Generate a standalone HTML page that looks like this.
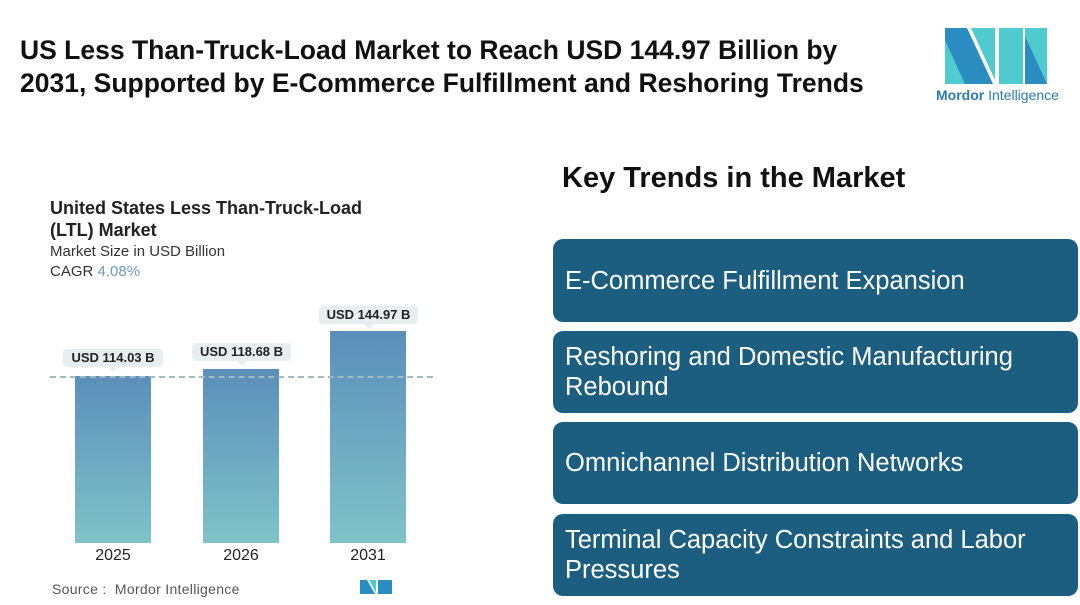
<!DOCTYPE html>
<html><head><style>
body{margin:0;width:1080px;height:605px;background:#fff;font-family:"Liberation Sans",sans-serif;position:relative;overflow:hidden}
.a{position:absolute}
.t{left:20px;top:34px;font-size:26.5px;font-weight:bold;color:#111;line-height:33px}
.box{position:absolute;left:553px;width:525px;background:#1c5e80;border-radius:10px;color:#fff;font-size:25.5px;line-height:30px;padding-left:12px;box-sizing:border-box;display:flex;align-items:center}
.bar{position:absolute;width:76px;background:linear-gradient(#5b8fba,#7fc3c8)}
.lbl{position:absolute;background:#e6eef2;border-radius:4px;font-size:13px;font-weight:bold;color:#222;text-align:center;line-height:18px}
.lbl:after{content:"";position:absolute;left:50%;bottom:-5px;margin-left:-5px;border:5px solid transparent;border-bottom:0;border-top-color:#e6eef2}
.yr{position:absolute;top:547px;width:76px;text-align:center;font-size:16px;color:#222}
</style></head><body>
<div class="a t">US Less Than-Truck-Load Market to Reach USD 144.97 Billion by<br>2031, Supported by E-Commerce Fulfillment and Reshoring Trends</div>
<svg class="a" style="left:945px;top:28px" width="102" height="56" viewBox="0 0 102 56">
<polygon points="0,0 22,0 48,56 0,56" fill="#2a8cc0"/>
<polygon points="0,12 20,56 0,56" fill="#4fcbd0"/>
<polygon points="26,0 50,0 50,52" fill="#4fcbd0"/>
<polygon points="54,0 78,0 78,56 54,56" fill="#4fcbd0"/>
<polygon points="80,0 102,0 102,56 80,56" fill="#4fcbd0"/>
<polygon points="80,8 102,56 80,56" fill="#2a8cc0"/>
</svg>
<div class="a" style="left:936px;top:87px;font-size:14px;color:#2a7bb0"><b>Mordor</b> Intelligence</div>
<div class="a" style="left:50px;top:197px;font-size:18px;font-weight:bold;color:#222;line-height:22px">United States Less Than-Truck-Load<br>(LTL) Market</div>
<div class="a" style="left:50px;top:243px;font-size:15px;color:#333">Market Size in USD Billion</div>
<div class="a" style="left:50px;top:263px;font-size:15px;color:#333">CAGR <span style="color:#6a9cc4">4.08%</span></div>
<div class="bar" style="left:75px;top:376px;height:167px"></div>
<div class="bar" style="left:203px;top:369px;height:174px"></div>
<div class="bar" style="left:330px;top:331px;height:212px"></div>
<div class="a" style="left:50px;top:376px;width:383px;border-top:2px dashed #9fbcc4"></div>
<div class="lbl" style="left:63px;top:349px;width:100px">USD 114.03 B</div>
<div class="lbl" style="left:192px;top:343px;width:99px">USD 118.68 B</div>
<div class="lbl" style="left:319px;top:306px;width:99px">USD 144.97 B</div>
<div class="yr" style="left:75px">2025</div>
<div class="yr" style="left:203px">2026</div>
<div class="yr" style="left:330px">2031</div>
<div class="a" style="left:52px;top:581px;font-size:14px;color:#555;letter-spacing:0.3px">Source : &nbsp;Mordor Intelligence</div>
<svg class="a" style="left:360px;top:580px" width="32" height="14"><polygon points="0,0 7,0 15,14 0,14" fill="#2a8cc0"/><polygon points="9,0 16,0 16,13" fill="#4fcbd0"/><polygon points="18,0 32,0 32,14 18,14" fill="#2a8cc0"/></svg>
<div class="a" style="left:562px;top:162px;font-size:29px;font-weight:bold;color:#111">Key Trends in the Market</div>
<div class="box" style="top:239px;height:83px">E-Commerce Fulfillment Expansion</div>
<div class="box" style="top:331px;height:82px">Reshoring and Domestic Manufacturing<br>Rebound</div>
<div class="box" style="top:422px;height:82px">Omnichannel Distribution Networks</div>
<div class="box" style="top:514px;height:82px">Terminal Capacity Constraints and Labor<br>Pressures</div>
</body></html>
